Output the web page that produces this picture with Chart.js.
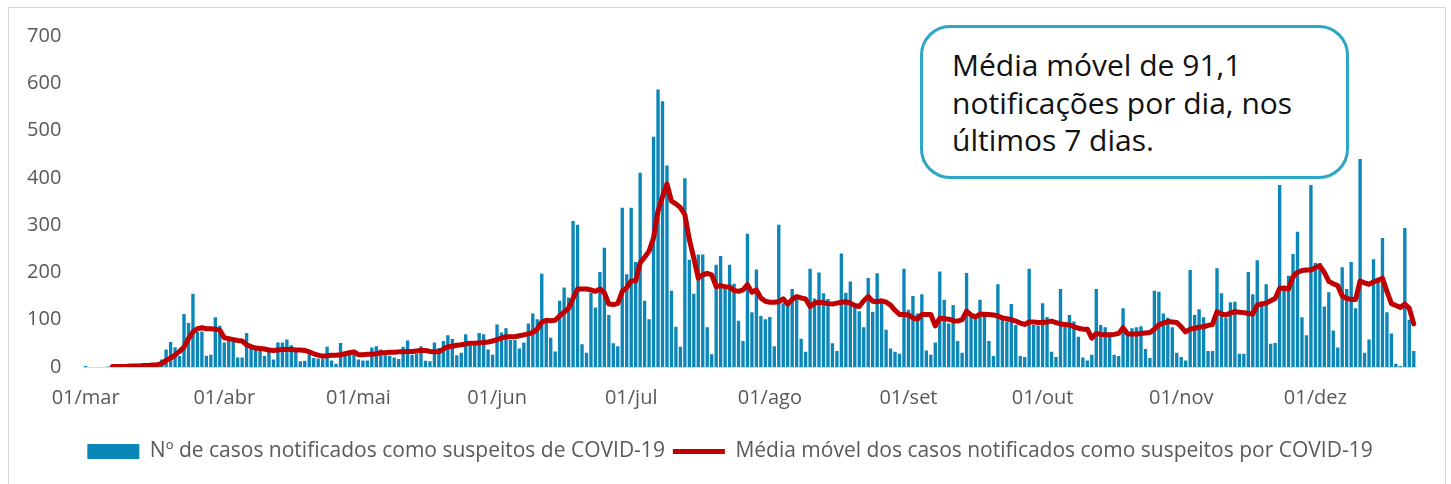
<!DOCTYPE html>
<html>
<head>
<meta charset="utf-8">
<script src="https://cdn.jsdelivr.net/npm/chart.js@4.4.1/dist/chart.umd.min.js"></script>
<style>
  html, body { margin: 0; padding: 0; background: #fff; }
  #wrap { position: relative; width: 1451px; height: 484px; overflow: hidden; }
  #frame { position: absolute; left: 8px; top: 7px; width: 1438px; height: 500px; border: 1px solid #d9d9d9; box-sizing: border-box; }
  #c { position: absolute; left: 0; top: 0; }
  #note {
    position: absolute; left: 920px; top: 25px; width: 429px; height: 154px;
    box-sizing: border-box; border: 3px solid #2ea6c8; border-radius: 30px; background: #fff;
    font-family: "Open Sans", sans-serif; font-size: 30px; line-height: 37.5px; color: #111;
    padding: 18px 0 0 29px; white-space: nowrap;
  }
</style>
</head>
<body>
<div id="wrap">
  <div id="frame"></div>
  <canvas id="c" width="1451" height="484"></canvas>
  <div id="note">Média móvel de 91,1<br>notificações por dia, nos<br>últimos 7 dias.</div>
</div>
<script>
// ---- data ----
const monthNames = ['mar','abr','mai','jun','jul','ago','set','out','nov','dez'];
const monthDays  = [31, 30, 31, 30, 31, 31, 30, 31, 30, 23];
const yTicks = [0, 100, 200, 300, 400, 500, 600, 700];

const seriesBarLabel = 'Nº de casos notificados como suspeitos de COVID-19';
const seriesLineLabel = 'Média móvel dos casos notificados como suspeitos por COVID-19';

const casos = [
  2,0,0,0,0,1,1,0,1,1,2,1,2,3,3,5,6,
  16,37,53,42,23,112,93,155,74,75,
  24,26,105,87,52,57,53,20,20,72,
  41,38,35,23,32,16,52,52,58,46,
  39,12,13,27,19,18,18,43,14,7,
  51,23,35,35,16,14,14,41,44,37,
  25,24,20,17,43,56,26,28,44,13,
  12,52,40,
  55,67,59,25,30,69,46,46,72,69,37,26,90,73,82,57,57,39,52,92,113,101,
  197,99,62,33,140,168,147,309,301,48,30,157,126,201,252,110,
  50,44,337,196,337,222,411,140,101,487,587,562,426,161,85,43,399,227,155,238,238,84,27,216,235,172,216,176,98,
  55,282,116,206,108,101,106,44,301,135,131,165,152,60,32,208,145,200,156,144,50,34,240,157,181,128,118,84,188,117,198,142,79,39,32,28,
  208,121,150,113,154,35,26,52,202,142,92,131,55,30,199,106,104,142,117,55,23,175,104,96,133,89,23,21,208,89,88,135,106,32,21,165,85,110,96,64,20,14,26,165,89,
  84,73,26,23,124,66,82,84,86,38,19,161,159,113,104,84,30,21,14,205,110,122,105,34,34,209,156,104,137,138,28,28,201,154,226,139,175,49,51,
  385,167,193,239,286,105,67,385,220,220,128,158,77,41,211,165,222,124,440,30,58,228,189,273,116,71,7,2,294,100,34
];

const mediaMovel = [
  null,null,null,null,null,null,
  1,1,1,1,2,2,2,3,3,4,5,
  7,14,19,25,33,42,60,74,81,83,
  81,81,80,78,62,60,58,56,55,47,
  43,40,39,38,36,35,36,37,37,37,
  36,36,35,32,28,25,23,24,25,25,
  26,28,30,32,26,26,27,27,28,30,
  30,31,31,32,32,33,33,34,35,35,
  33,32,32,38,43,44,46,47,49,50,
  50,51,52,53,55,58,61,64,64,64,
  66,68,70,73,80,95,99,98,99,108,
  116,124,145,165,165,165,163,160,165,157,
  133,132,134,160,168,182,182,220,232,245,
  273,330,360,387,351,345,337,322,270,230,
  188,195,198,195,170,172,170,169,162,160,
  163,174,158,163,146,139,137,137,138,144,
  133,143,149,146,144,128,135,137,136,134,
  133,135,137,138,135,130,128,140,149,139,
  138,140,137,131,120,111,111,110,104,101,
  111,111,111,87,103,102,101,98,97,100,
  118,110,106,112,111,111,110,108,104,102,
  100,97,93,90,95,95,94,94,95,97,
  94,91,90,89,85,82,80,80,61,71,
  69,68,68,69,71,83,70,70,70,71,
  72,73,80,89,93,96,95,94,85,74,
  80,82,84,85,88,90,117,112,110,114,
  117,116,115,113,112,131,133,135,140,145,
  166,167,165,191,200,204,205,205,210,214,
  200,181,176,172,150,145,143,143,182,178,
  175,180,183,188,160,134,130,126,133,124,
  91.1
];

// categories: one per day
const categorias = [];
monthNames.forEach((m, k) => {
  for (let d = 1; d <= monthDays[k]; d++) categorias.push(String(d).padStart(2, '0') + '/' + m);
});

const BAR_COLOR = '#0a86b8';
const LINE_COLOR = '#c00000';
const TXT = '#595959';

// nudge the legend box to the reference position
const legendShift = {
  id: 'legendShift',
  afterLayout(chart) {
    const lg = chart.legend;
    if (!lg) return;
    lg.left += 22; lg.right += 22;
    lg.top += 2; lg.bottom += 2;
  }
};

new Chart(document.getElementById('c'), {
  type: 'bar',
  data: {
    labels: categorias,
    datasets: [
      { type: 'bar', label: seriesBarLabel, data: casos, backgroundColor: BAR_COLOR,
        barPercentage: 0.75, categoryPercentage: 1.0, order: 1 },
      { type: 'line', label: seriesLineLabel, data: mediaMovel, borderColor: LINE_COLOR,
        backgroundColor: LINE_COLOR, borderWidth: 5, pointRadius: 0, tension: 0,
        borderJoinStyle: 'round', borderCapStyle: 'round', spanGaps: false, order: 0 }
    ]
  },
  plugins: [legendShift],
  options: {
    responsive: false,
    animation: false,
    devicePixelRatio: 1,
    layout: { padding: { left: 0, right: 35, top: 36, bottom: 14 } },
    plugins: {
      tooltip: { enabled: false },
      legend: {
        position: 'bottom',
        labels: {
          font: { family: 'Open Sans', size: 21 },
          color: TXT,
          usePointStyle: true,
          pointStyleWidth: 52,
          boxHeight: 15,
          padding: 8,
          generateLabels: (chart) => chart.data.datasets.map((ds, i) => ({
            text: ds.label,
            fillStyle: ds.type === 'line' ? LINE_COLOR : BAR_COLOR,
            strokeStyle: ds.type === 'line' ? LINE_COLOR : BAR_COLOR,
            lineWidth: ds.type === 'line' ? 5 : 0,
            pointStyle: ds.type === 'line' ? 'line' : 'rect',
            fontColor: TXT,
            hidden: false,
            datasetIndex: i
          }))
        }
      }
    },
    scales: {
      x: {
        offset: true,
        grid: { display: false },
        border: { display: true, color: '#d9d9d9', width: 1 },
        ticks: {
          autoSkip: false, maxRotation: 0, minRotation: 0, padding: 11,
          color: TXT, font: { family: 'Open Sans', size: 20 },
          callback: function (v, i) { const l = categorias[i]; return l.startsWith('01/') ? l : ''; }
        },
        afterFit: (s) => { s.height = 64; }
      },
      y: {
        min: 0, max: 700,
        grid: { display: false },
        border: { display: false },
        afterBuildTicks: (s) => { s.ticks = yTicks.map(v => ({ value: v })); },
        ticks: { padding: 14, color: TXT, font: { family: 'Open Sans', size: 20 } },
        afterFit: (s) => { s.width = 83.4; }
      }
    }
  }
});
</script>
</body>
</html>
